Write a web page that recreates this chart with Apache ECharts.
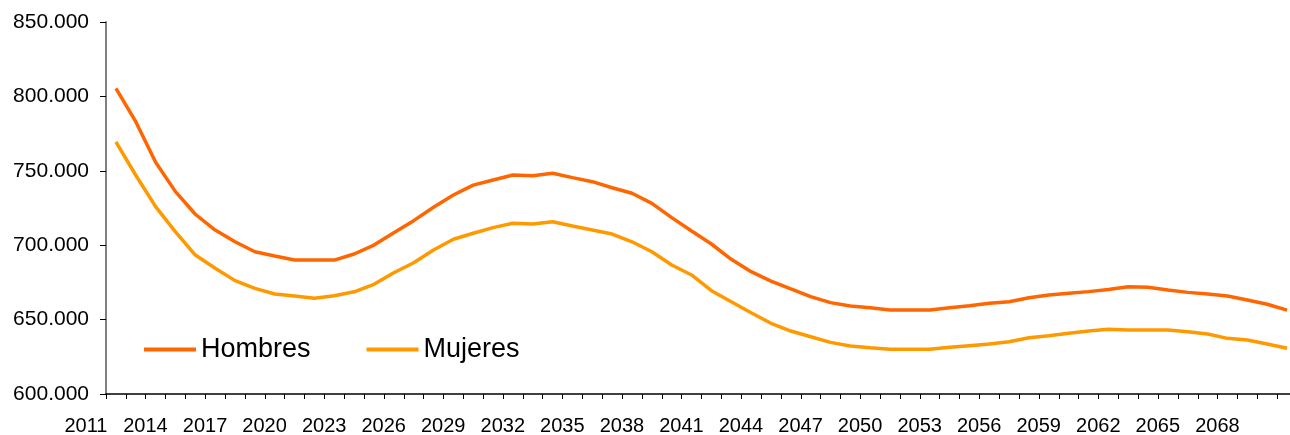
<!DOCTYPE html>
<html>
<head>
<meta charset="utf-8">
<script src="https://cdn.jsdelivr.net/npm/echarts@6/dist/echarts.min.js"></script>
<style>
html,body{margin:0;padding:0;background:#fff;}
#chart{width:1290px;height:435px;}
</style>
</head>
<body>
<div id="chart"></div>
<script>
//años
var years = [
	'2011','2012','2013','2014','2015','2016','2017','2018','2019','2020',
	'2021','2022','2023','2024','2025','2026','2027','2028','2029','2030',
	'2031','2032','2033','2034','2035','2036','2037','2038','2039','2040',
	'2041','2042','2043','2044','2045','2046','2047','2048','2049','2050',
	'2051','2052','2053','2054','2055','2056','2057','2058','2059','2060',
	'2061','2062','2063','2064','2065','2066','2067','2068','2069','2070'
];

//hombres
var hombres = [
	805400,783000,755700,736000,720800,710200,702300,695600,692700,690000,
	690000,690000,694100,700100,708400,716500,725500,733700,740400,743800,
	747200,746700,748300,745400,742700,738600,734900,728100,718500,709500,
	700800,690500,682200,675900,670600,665400,661400,659100,658000,656400,
	656400,656400,658000,659300,661000,662000,664700,666500,667700,668800,
	670300,672100,671700,669900,668300,667200,665900,663200,660300,656400
];

//mujeres
var mujeres = [
	769500,747000,725900,709000,693400,684500,676200,671000,667200,665900,
	664300,666000,668700,673700,681500,688200,696800,704000,708000,711800,
	714700,714200,715800,712900,710200,707500,702300,695600,686700,680000,
	669400,662000,654600,647500,642300,638500,634700,632300,631100,630000,
	630000,630000,631400,632500,633600,635100,637800,639200,640800,642300,
	643500,643000,643000,643000,641900,640300,637400,636300,633600,630700
];

var fontName = "'Liberation Sans', Arial, sans-serif";

function puntos(v){
	return String(v).replace(/\B(?=(\d{3})+(?!\d))/g, '.');
}

var option = {
	backgroundColor: '#fff',
	animation: false,
	grid: {
		left: 106,
		right: -7,
		top: 22,
		bottom: 41,
		containLabel: false,
		outerBoundsMode: 'none'
	},
	legend: {
		left: 139,
		top: 331,
		orient: 'horizontal',
		icon: 'rect',
		itemWidth: 52,
		itemHeight: 4,
		itemGap: 56,
		textStyle: {
			fontFamily: fontName,
			fontSize: 27,
			color: '#000'
		},
		data: ['Hombres', 'Mujeres']
	},
	xAxis: {
		type: 'category',
		data: years,
		boundaryGap: true,
		axisLine: {lineStyle: {color: '#000', width: 1.5}},
		axisTick: {show: true, interval: 0, length: 5, lineStyle: {color: '#000', width: 1}},
		axisLabel: {
			interval: 2,
			margin: 22,
			formatter: function(v){ return '{a|' + v + '}'; },
			rich: {
				a: {
					fontFamily: fontName,
					fontSize: 20,
					color: '#000',
					padding: [0, 60, 0, 0]
				}
			}
		},
		splitLine: {show: false}
	},
	yAxis: {
		type: 'value',
		min: 600000,
		max: 850000,
		interval: 50000,
		axisLine: {show: true, lineStyle: {color: '#808080', width: 2}},
		axisTick: {show: true, length: 6, lineStyle: {color: '#000', width: 1}},
		axisLabel: {
			margin: 17,
			fontFamily: fontName,
			fontSize: 21,
			color: '#000',
			formatter: puntos
		},
		splitLine: {show: false}
	},
	series: [{
		name: 'Hombres',
		type: 'line',
		data: hombres,
		symbol: 'none',
		color: '#FF6600',
		lineStyle: {width: 3.5, color: '#FF6600'}
	}, {
		name: 'Mujeres',
		type: 'line',
		data: mujeres,
		symbol: 'none',
		color: '#FF9900',
		lineStyle: {width: 3.5, color: '#FF9900'}
	}]
};

var myChart = echarts.init(document.getElementById('chart'));
myChart.setOption(option, true);
</script>
</body>
</html>
